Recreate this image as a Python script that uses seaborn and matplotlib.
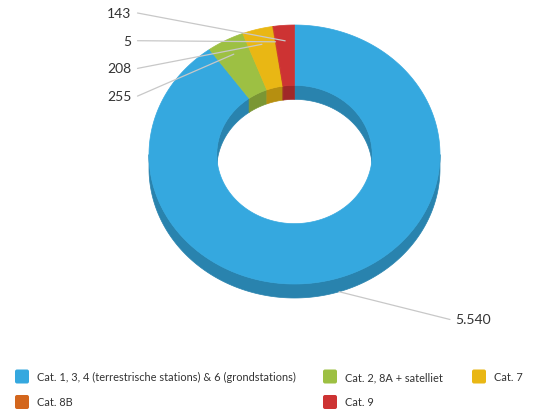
import numpy as np
import matplotlib
matplotlib.use("Agg")
import matplotlib.pyplot as plt
from matplotlib.patches import Polygon, FancyBboxPatch
import seaborn as sns

# Data
categories = [
    "Cat. 1, 3, 4 (terrestrische stations) & 6 (grondstations)",
    "Cat. 2, 8A + satelliet",
    "Cat. 7",
    "Cat. 8B",
    "Cat. 9",
]
values = [5540, 255, 208, 5, 143]
value_labels = ["5.540", "255", "208", "5", "143"]
colors = ["#35a8df", "#9dc043", "#e9b714", "#d3661d", "#cd3333"]

sns.set_theme(style="white")
plt.rcParams["font.family"] = ["Lato", "DejaVu Sans"]
palette = sns.color_palette(colors)

W, H = 551, 410
fig = plt.figure(figsize=(W / 100, H / 100), dpi=100)
ax = fig.add_axes([0, 0, 1, 1])
ax.set_xlim(0, W)
ax.set_ylim(H, 0)
ax.axis("off")

# Donut geometry (screen pixels), tilted ring seen from above
cx, cy = 294.5, 155.5
rx_out, ry_out = 145.5, 129.5
inner = 0.534
depth = 14
shade = 0.78


def pt(theta, frac, h=0.0):
    return (cx + rx_out * frac * np.sin(theta),
            cy - ry_out * frac * np.cos(theta) + h)


def arc(t0, t1, frac, h=0.0, n=None):
    n = n or max(4, int(abs(t1 - t0) * 120))
    t = np.linspace(t0, t1, n)
    x, y = pt(t, frac, h)
    return np.column_stack([x, y])


def clip(t0, t1, lo, hi):
    a, b = max(t0, lo), min(t1, hi)
    return (a, b) if b > a else None


vals = np.asarray(values, dtype=float)
ends = np.cumsum(vals) / vals.sum() * 2 * np.pi
starts = np.concatenate([[0.0], ends[:-1]])

dark = [tuple(c * shade for c in col) for col in palette]

# Side walls first: outer wall on the near half, inner wall on the far half
for s, e, d in zip(starts, ends, dark):
    seg = clip(s, e, np.pi / 2, 3 * np.pi / 2)
    if seg:
        poly = np.vstack([arc(*seg, 1.0), arc(*seg[::-1], 1.0, depth)])
        ax.add_patch(Polygon(poly, closed=True, fc=d, ec=d, lw=0.5))
    for lo, hi in [(-np.pi / 2, np.pi / 2), (3 * np.pi / 2, 5 * np.pi / 2)]:
        seg = clip(s, e, lo, hi)
        if seg:
            poly = np.vstack([arc(*seg, inner), arc(*seg[::-1], inner, depth)])
            ax.add_patch(Polygon(poly, closed=True, fc=d, ec=d, lw=0.5))

# Top faces
for s, e, col in zip(starts, ends, palette):
    poly = np.vstack([arc(s, e, 1.0), arc(e, s, inner)])
    ax.add_patch(Polygon(poly, closed=True, fc=col, ec=col, lw=0.5))

# Data labels with connectors
left_x, left_y0, left_step = 131.5, 14.0, 27.7
right_x, right_y0 = 455.0, 320.5
mids = (starts + ends) / 2
left_idx = [i for i in range(len(values)) if mids[i] > np.pi]
left_idx.sort(key=lambda i: -mids[i])
right_idx = [i for i in range(len(values)) if mids[i] <= np.pi]

for i in range(len(values)):
    m = mids[i]
    if np.cos(m) < 0:
        ax_, ay_ = pt(m, 1.0, depth)
    else:
        ax_, ay_ = pt(m, 0.88)
    if i in left_idx:
        k = left_idx.index(i)
        ly = left_y0 + left_step * k
        ax.plot([left_x + 6, ax_], [ly, ay_], color="#c8c8c8", lw=0.9, zorder=5)
        ax.text(left_x, ly, value_labels[i], ha="right", va="center",
                fontsize=10, color="#333333", zorder=6)
    else:
        k = right_idx.index(i)
        ly = right_y0 + left_step * k
        ax.plot([ax_, right_x - 5], [ay_, ly], color="#c8c8c8", lw=0.9, zorder=5)
        ax.text(right_x, ly, value_labels[i], ha="left", va="center",
                fontsize=10, color="#333333", zorder=6)

# Legend: row-major across three columns
col_x = [15, 323, 472]
row_y = [377.5, 403.0]
box = 14
for i, (name, col) in enumerate(zip(categories, palette)):
    r, c = divmod(i, 3)
    x0, y0 = col_x[c], row_y[r]
    ax.add_patch(FancyBboxPatch((x0 + 2, y0 - box / 2 + 2), box - 4, box - 4,
                                boxstyle="round,pad=2", fc=col, ec="none"))
    ax.text(x0 + 22, y0, name, ha="left", va="center", fontsize=7.95,
            color="#333333")

fig.savefig("out.png", dpi=100, facecolor="white")
